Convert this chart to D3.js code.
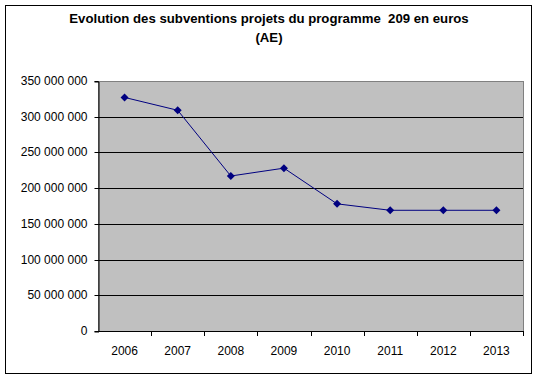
<!DOCTYPE html>
<html><head><meta charset="utf-8">
<script src="https://cdn.jsdelivr.net/npm/d3@7"></script>
<style>body{margin:0;background:#fff}svg{display:block}</style>
</head><body>
<script>
const years = ["2006","2007","2008","2009","2010","2011","2012","2013"];
const values = [327000000, 309000000, 217000000, 228000000, 178000000, 169000000, 169000000, 169000000];
const yTicks = [0, 50000000, 100000000, 150000000, 200000000, 250000000, 300000000, 350000000];
const titleLines = ["Evolution des subventions projets du programme\u00a0 209 en euros", "(AE)"];

const W = 538, H = 378;
const FONT = "Arial, 'Liberation Sans', sans-serif";
const svg = d3.select("body").append("svg").attr("width", W).attr("height", H)
  .style("font-family", FONT);

svg.append("rect").attr("x", 5.5).attr("y", 5.5).attr("width", 526).attr("height", 368)
  .attr("fill", "#fff").attr("stroke", "#000").attr("stroke-width", 1);

const m = {left: 98, right: 523, top: 81, bottom: 331};
const x = d3.scaleBand().domain(years).range([m.left, m.right]);
const y = d3.scaleLinear().domain([0, 350000000]).range([m.bottom, m.top]);

svg.append("rect").attr("x", m.left + 0.5).attr("y", m.top + 0.5).attr("width", m.right - m.left)
  .attr("height", m.bottom - m.top).attr("fill", "#c0c0c0").attr("stroke", "#808080");

const fmt = v => d3.format(",")(v).replace(/,/g, " ");

// gridlines
svg.append("g").selectAll("line").data(yTicks.filter(t => t > 0 && t < 350000000)).join("line")
  .attr("x1", m.left).attr("x2", m.right)
  .attr("y1", d => Math.round(y(d)) + 0.5).attr("y2", d => Math.round(y(d)) + 0.5)
  .attr("stroke", "#000");

// y axis
const yAxis = d3.axisLeft(y).tickValues(yTicks).tickFormat(fmt).tickSize(4).tickPadding(7);
const gy = svg.append("g").attr("transform", `translate(${m.left + 0.5},0.5)`).call(yAxis);
gy.selectAll("text").attr("font-size", "12px").attr("fill", "#000").attr("font-family", FONT);
gy.select(".domain").attr("stroke", "#000");
gy.selectAll(".tick line").attr("stroke", "#000");
gy.selectAll(".tick").attr("transform", d => `translate(0,${Math.round(y(d))})`);

// x axis
const xAxis = d3.axisBottom(x).tickSize(0).tickPadding(0);
const gx = svg.append("g").attr("transform", `translate(0,${m.bottom + 0.5})`).call(xAxis);
gx.select(".domain").remove();
gx.selectAll("text").attr("font-size", "12px").attr("fill", "#000").attr("font-family", FONT)
  .attr("dy", null).attr("y", 23);
svg.append("line").attr("x1", m.left).attr("x2", m.right + 1).attr("y1", m.bottom + 0.5).attr("y2", m.bottom + 0.5).attr("stroke", "#000");
svg.append("g").selectAll("line").data(years.slice(1).concat(["end"])).join("line")
  .attr("x1", (d, i) => Math.round(m.left + (i + 1) * x.bandwidth()) + 0.5)
  .attr("x2", (d, i) => Math.round(m.left + (i + 1) * x.bandwidth()) + 0.5)
  .attr("y1", m.bottom).attr("y2", m.bottom + 5).attr("stroke", "#000");

// line
const cx = d => x(d) + x.bandwidth() / 2;
svg.append("path").datum(years.map((d, i) => [cx(d), y(values[i])]))
  .attr("d", d3.line()).attr("fill", "none").attr("stroke", "#000080").attr("stroke-width", 1);
svg.append("g").selectAll("path").data(years).join("path")
  .attr("transform", (d, i) => `translate(${cx(d)},${y(values[i])})`)
  .attr("d", "M0,-4L4,0L0,4L-4,0Z").attr("fill", "#000080");

// title
svg.append("g").selectAll("text").data(titleLines).join("text")
  .attr("x", 269).attr("y", (d, i) => 23 + i * 19).attr("text-anchor", "middle")
  .attr("font-size", "13.2px").attr("font-weight", "bold").text(d => d);
</script>
</body></html>
